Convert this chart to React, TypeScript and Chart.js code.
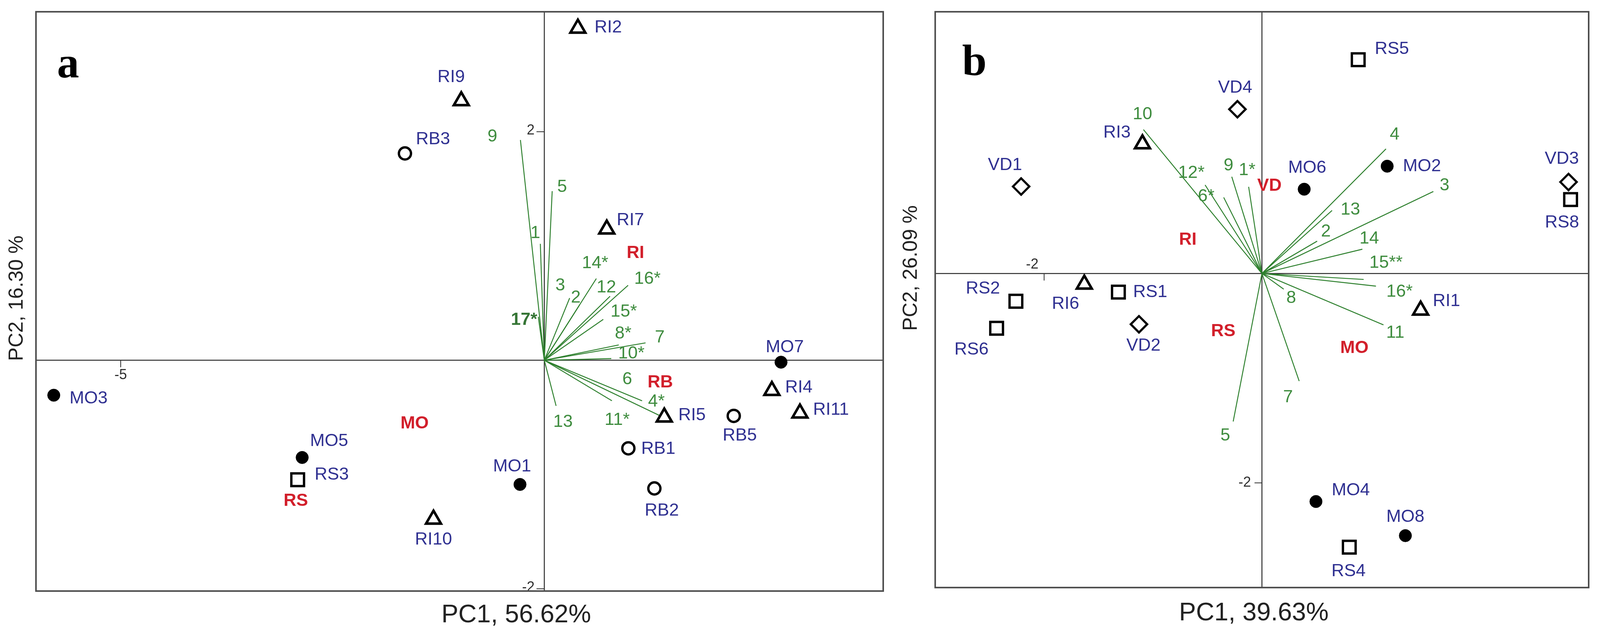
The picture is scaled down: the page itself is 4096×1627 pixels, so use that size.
import React, { useEffect, useRef } from 'react';
import { Chart, registerables } from 'chart.js';

Chart.register(...registerables);

// ================= DATA =================
// Panel a
const aSampleNames = ['RI9', 'RB3', 'RI2', 'RI7', 'MO3', 'MO5', 'RS3', 'MO1', 'RI10', 'MO7', 'RI4', 'RI11', 'RI5', 'RB5', 'RB1', 'RB2'];
const aSamplePC1 = [-0.98, -1.645, 0.396, 0.737, -5.79, -2.858, -2.911, -0.287, -1.308, 2.794, 2.686, 3.017, 1.416, 2.236, 0.992, 1.299];
const aSamplePC2 = [2.27, 1.81, 2.905, 1.147, -0.306, -0.851, -1.046, -1.087, -1.392, -0.017, -0.266, -0.463, -0.498, -0.487, -0.771, -1.122];

const aVarNames = ['9', '5', '1', '17*', '3', '2', '14*', '12', '16*', '15*', '8*', '7', '10*', '6', '4*', '11*', '13'];
const aVarPC1 = [-0.282, 0.093, -0.047, -0.071, 0.299, 0.416, 0.614, 0.776, 0.989, 0.696, 0.879, 1.195, 0.791, 1.154, 1.369, 0.798, 0.139];
const aVarPC2 = [1.928, 1.48, 1.019, 0.38, 0.544, 0.484, 0.715, 0.56, 0.656, 0.358, 0.134, 0.152, 0.015, -0.355, -0.487, -0.355, -0.399];

const aGroupNames = ['RI', 'RB', 'MO', 'RS'];
const aGroupPC1 = [1.076, 1.369, -1.531, -2.933];
const aGroupPC2 = [0.937, -0.195, -0.556, -1.231];

const aXTickValues = [-5];
const aYTickValues = [2, -2];

// Panel b
const bSampleNames = ['RS5', 'VD4', 'RI3', 'VD1', 'MO6', 'MO2', 'VD3', 'RS8', 'RS2', 'RI6', 'RS1', 'RI1', 'RS6', 'VD2', 'MO4', 'MO8', 'RS4'];
const bSamplePC1 = [0.884, -0.225, -1.097, -2.211, 0.388, 1.15, 2.815, 2.834, -2.259, -1.631, -1.318, 1.457, -2.436, -1.129, 0.496, 1.317, 0.802];
const bSamplePC2 = [2.042, 1.569, 1.237, 0.831, 0.805, 1.025, 0.874, 0.706, -0.265, -0.103, -0.178, -0.351, -0.523, -0.485, -2.178, -2.504, -2.614];

const bVarNames = ['10', '12*', '6*', '9', '1*', '4', '3', '13', '2', '14', '15**', '16*', '8', '11', '7', '5'];
const bVarPC1 = [-1.088, -0.522, -0.351, -0.277, -0.122, 1.139, 1.574, 0.644, 0.507, 0.922, 0.934, 1.047, 0.2, 1.116, 0.342, -0.264];
const bVarPC2 = [1.375, 0.846, 0.727, 0.924, 0.828, 1.19, 0.783, 0.602, 0.309, 0.232, -0.057, -0.121, -0.15, -0.491, -1.028, -1.414];

const bGroupNames = ['VD', 'RI', 'RS', 'MO'];
const bGroupPC1 = [0.069, -0.681, -0.355, 0.849];
const bGroupPC2 = [0.835, 0.321, -0.553, -0.712];

const bXTickValues = [-2];
const bYTickValues = [-2];

// ================= LAYOUT / STYLE =================
const S = 0.959;
const H = 1627;
const SANS = "'Liberation Sans', Arial, Helvetica, sans-serif";
const SERIF = "'Liberation Serif', 'Times New Roman', serif";
const BLUE = '#2f3091';
const RED = '#d21f2b';
const GREEN_TEXT = '#3e8c3e';
const GREEN_LINE = '#2c7f2c';
const AXIS = '#2e2e2e';
const FRAME = '#4d4d4d';

// label offsets (reference px) of sample names relative to their markers
const aSampleLabelDX = [-27, 75, 81, 63, 93, 72, 91, -21, 0, 10, 72, 83, 74, 16, 80, 20];
const aSampleLabelDY = [-63, -38, -2, -24, 9, -43, -13, -48, 54, -40, -8, -9, -5, 53, 2, 60];
const bSampleLabelDX = [90, -6, -68, -43, 8, 93, -18, -23, -88, -50, 85, 69, -67, 12, 93, 0, -2];
const bSampleLabelDY = [-28, -57, -30, -57, -57, 0, -61, 62, -33, 53, 0, -24, 57, 57, -30, -50, 65];

// variable label anchors (axis units)
const aVarLabelPC1 = [-0.613, 0.21, -0.106, -0.238, 0.188, 0.372, 0.6, 0.732, 1.217, 0.938, 0.931, 1.363, 1.027, 0.979, 1.323, 0.86, 0.22];
const aVarLabelPC2 = [1.957, 1.516, 1.112, 0.352, 0.653, 0.549, 0.85, 0.637, 0.713, 0.423, 0.232, 0.199, 0.057, -0.168, -0.364, -0.523, -0.541];
const bVarLabelPC1 = [-1.097, -0.648, -0.512, -0.307, -0.136, 1.218, 1.677, 0.812, 0.587, 0.985, 1.139, 1.263, 0.269, 1.224, 0.239, -0.336];
const bVarLabelPC2 = [1.52, 0.96, 0.734, 1.032, 0.985, 1.326, 0.842, 0.609, 0.399, 0.333, 0.1, -0.174, -0.234, -0.568, -1.182, -1.549];

const markerStyle: Record<string, { style: string; r: number; fill: string; bw: number }> = {
  MO: { style: 'circle', r: 16, fill: '#000000', bw: 1 },
  RB: { style: 'circle', r: 15.5, fill: '#ffffff', bw: 6 },
  RI: { style: 'triangle', r: 22, fill: '#ffffff', bw: 6.5 },
  RS: { style: 'rect', r: 23, fill: '#ffffff', bw: 6 },
  VD: { style: 'rectRot', r: 21, fill: '#ffffff', bw: 5.5 },
};

interface PanelData {
  names: string[]; pc1: number[]; pc2: number[];
  labelDX: number[]; labelDY: number[];
  vars: string[]; varPC1: number[]; varPC2: number[];
  varLabelPC1: number[]; varLabelPC2: number[];
  boldVars: string[];
  groups: string[]; groupPC1: number[]; groupPC2: number[];
  xTicks: number[]; yTicks: number[];
  xMin: number; xMax: number; yMin: number; yMax: number;
}

interface PanelLayout {
  canvasLeft: number; canvasWidth: number;
  padding: { left: number; right: number; top: number; bottom: number };
  letter: string; letterX: number; letterBase: number;
  xTitle: string; xTitleX: number; xTitleY: number;
  yTitle: string; yTitleX: number; yTitleY: number;
  xTickLabelDX: number; xTickLabelDY: number; xTickDown: number;
  yTickLabelDX: number; yTickLabelDY: number; yTickLen: number;
}

const panelA: PanelData = {
  names: aSampleNames, pc1: aSamplePC1, pc2: aSamplePC2,
  labelDX: aSampleLabelDX, labelDY: aSampleLabelDY,
  vars: aVarNames, varPC1: aVarPC1, varPC2: aVarPC2,
  varLabelPC1: aVarLabelPC1, varLabelPC2: aVarLabelPC2,
  boldVars: ['17*'],
  groups: aGroupNames, groupPC1: aGroupPC1, groupPC2: aGroupPC2,
  xTicks: aXTickValues, yTicks: aYTickValues,
  xMin: -6, xMax: 4, yMin: -2.02, yMax: 3.05,
};

const panelB: PanelData = {
  names: bSampleNames, pc1: bSamplePC1, pc2: bSamplePC2,
  labelDX: bSampleLabelDX, labelDY: bSampleLabelDY,
  vars: bVarNames, varPC1: bVarPC1, varPC2: bVarPC2,
  varLabelPC1: bVarLabelPC1, varLabelPC2: bVarLabelPC2,
  boldVars: [],
  groups: bGroupNames, groupPC1: bGroupPC1, groupPC2: bGroupPC2,
  xTicks: bXTickValues, yTicks: bYTickValues,
  xMin: -3, xMax: 3, yMin: -3, yMax: 2.5,
};

const layoutA: PanelLayout = {
  canvasLeft: 0, canvasWidth: 2290,
  padding: { left: 92.1, right: 23.9, top: 30.1, bottom: 115 },
  letter: 'a', letterX: 174.2, letterBase: 198.2,
  xTitle: 'PC1, 56.62%', xTitleX: 1321.5, xTitleY: 1573.7,
  yTitle: 'PC2, 16.30 %', yTitleX: 44, yTitleY: 763,
  xTickLabelDX: 0, xTickLabelDY: 38.6, xTickDown: 18,
  yTickLabelDX: -26 * S, yTickLabelDY: -3, yTickLen: 20,
};

const layoutB: PanelLayout = {
  canvasLeft: 2290, canvasWidth: 1806,
  padding: { left: 104.1, right: 20.25, top: 30.1, bottom: 123.9 },
  letter: 'b', letterX: 204.4, letterBase: 192.3,
  xTitle: 'PC1, 39.63%', xTitleX: 919.8, xTitleY: 1569,
  yTitle: 'PC2, 26.09 %', yTitleX: 42.3, yTitleY: 685.7,
  xTickLabelDX: -30.5, xTickLabelDY: -23, xTickDown: 18,
  yTickLabelDX: -28, yTickLabelDY: 0, yTickLen: 19,
};

function overlayPlugin(p: PanelData, L: PanelLayout) {
  return {
    id: 'biplotOverlay',
    beforeDatasetsDraw(chart: any) {
      const { ctx, chartArea: ca } = chart;
      const xs = chart.scales.x;
      const ys = chart.scales.y;
      const x0 = xs.getPixelForValue(0);
      const y0 = ys.getPixelForValue(0);
      ctx.save();
      ctx.strokeStyle = AXIS;
      ctx.lineWidth = 2.5;
      ctx.beginPath();
      ctx.moveTo(ca.left, y0); ctx.lineTo(ca.right, y0);
      ctx.moveTo(x0, ca.top); ctx.lineTo(x0, ca.bottom);
      ctx.stroke();
      // ticks
      ctx.lineWidth = 2;
      ctx.font = `36px ${SANS}`;
      ctx.fillStyle = AXIS;
      ctx.textBaseline = 'middle';
      p.xTicks.forEach((v) => {
        const px = xs.getPixelForValue(v);
        ctx.beginPath(); ctx.moveTo(px, y0); ctx.lineTo(px, y0 + L.xTickDown); ctx.stroke();
        ctx.textAlign = 'center';
        ctx.fillText(String(v), px + L.xTickLabelDX, y0 + L.xTickLabelDY);
      });
      p.yTicks.forEach((v) => {
        const py = ys.getPixelForValue(v);
        ctx.beginPath(); ctx.moveTo(x0 - L.yTickLen, py); ctx.lineTo(x0, py); ctx.stroke();
        ctx.textAlign = 'right';
        ctx.fillText(String(v), x0 + L.yTickLabelDX, py + L.yTickLabelDY);
      });
      // frame
      ctx.strokeStyle = FRAME;
      ctx.lineWidth = 4;
      ctx.strokeRect(ca.left, ca.top, ca.right - ca.left, ca.bottom - ca.top);
      ctx.restore();
    },
    afterDatasetsDraw(chart: any) {
      const { ctx } = chart;
      const xs = chart.scales.x;
      const ys = chart.scales.y;
      ctx.save();
      ctx.textAlign = 'center';
      ctx.textBaseline = 'middle';
      // variable labels
      p.vars.forEach((v, i) => {
        const bold = p.boldVars.includes(v);
        ctx.font = `${bold ? 'bold ' : ''}45px ${SANS}`;
        ctx.fillStyle = bold ? '#357535' : GREEN_TEXT;
        ctx.fillText(v, xs.getPixelForValue(p.varLabelPC1[i]), ys.getPixelForValue(p.varLabelPC2[i]));
      });
      // sample labels
      ctx.font = `45px ${SANS}`;
      ctx.fillStyle = BLUE;
      p.names.forEach((n, i) => {
        ctx.fillText(n, xs.getPixelForValue(p.pc1[i]) + p.labelDX[i] * S, ys.getPixelForValue(p.pc2[i]) + p.labelDY[i] * S);
      });
      // group labels
      ctx.font = `bold 45px ${SANS}`;
      ctx.fillStyle = RED;
      p.groups.forEach((g, i) => {
        ctx.fillText(g, xs.getPixelForValue(p.groupPC1[i]), ys.getPixelForValue(p.groupPC2[i]));
      });
      ctx.restore();
    },
    afterDraw(chart: any) {
      const { ctx } = chart;
      ctx.save();
      // panel letter
      ctx.font = `bold 113px ${SERIF}`;
      ctx.fillStyle = '#000';
      ctx.textAlign = 'center';
      ctx.textBaseline = 'alphabetic';
      ctx.fillText(L.letter, L.letterX, L.letterBase);
      // axis titles
      ctx.fillStyle = '#222';
      ctx.textBaseline = 'middle';
      ctx.font = `65px ${SANS}`;
      ctx.fillText(L.xTitle, L.xTitleX, L.xTitleY);
      ctx.translate(L.yTitleX, L.yTitleY);
      ctx.rotate(-Math.PI / 2);
      ctx.font = `52px ${SANS}`;
      ctx.fillText(L.yTitle, 0, 0);
      ctx.restore();
    },
  };
}

function buildConfig(p: PanelData, L: PanelLayout): any {
  const datasets: any[] = [];
  ['MO', 'RB', 'RI', 'RS', 'VD'].forEach((g) => {
    const idx = p.names.map((n, i) => (n.startsWith(g) ? i : -1)).filter((i) => i >= 0);
    if (!idx.length) return;
    const st = markerStyle[g];
    datasets.push({
      label: g,
      data: idx.map((i) => ({ x: p.pc1[i], y: p.pc2[i] })),
      showLine: false,
      pointStyle: st.style,
      pointRadius: st.r,
      pointHoverRadius: st.r,
      pointBackgroundColor: st.fill,
      pointBorderColor: '#000000',
      pointBorderWidth: st.bw,
    });
  });
  p.vars.forEach((v, i) => {
    datasets.push({
      label: 'var ' + v,
      data: [{ x: 0, y: 0 }, { x: p.varPC1[i], y: p.varPC2[i] }],
      showLine: true,
      pointRadius: 0,
      borderColor: GREEN_LINE,
      borderWidth: 2.4,
      fill: false,
    });
  });
  return {
    type: 'scatter',
    data: { datasets },
    options: {
      responsive: false,
      maintainAspectRatio: false,
      animation: false,
      devicePixelRatio: 1,
      events: [],
      layout: { padding: L.padding },
      plugins: { legend: { display: false }, tooltip: { enabled: false }, title: { display: false } },
      scales: {
        x: { type: 'linear', min: p.xMin, max: p.xMax, display: false },
        y: { type: 'linear', min: p.yMin, max: p.yMax, display: false },
      },
    },
    plugins: [overlayPlugin(p, L)],
  };
}

function Panel({ data, layout }: { data: PanelData; layout: PanelLayout }) {
  const ref = useRef<HTMLCanvasElement>(null);
  useEffect(() => {
    const chart = new Chart(ref.current as HTMLCanvasElement, buildConfig(data, layout));
    return () => chart.destroy();
  }, [data, layout]);
  return (
    <canvas
      ref={ref}
      width={layout.canvasWidth}
      height={H}
      style={{ position: 'absolute', left: layout.canvasLeft, top: 0, width: layout.canvasWidth, height: H }}
    />
  );
}

export default function App() {
  return (
    <div style={{ position: 'absolute', left: 0, top: 0, width: 4096, height: H, background: '#ffffff', overflow: 'hidden' }}>
      <Panel data={panelA} layout={layoutA} />
      <Panel data={panelB} layout={layoutB} />
    </div>
  );
}
